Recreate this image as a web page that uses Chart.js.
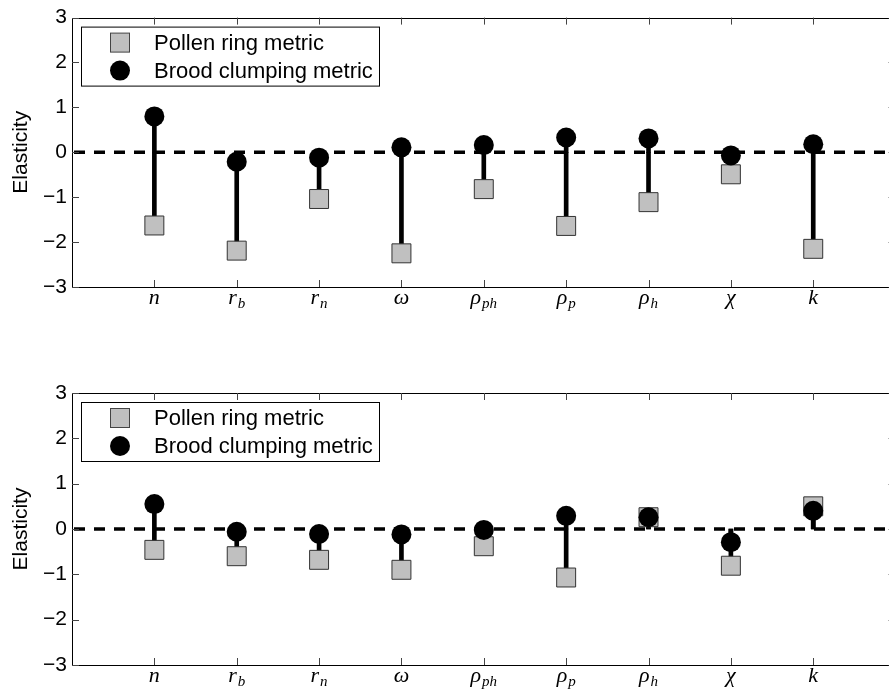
<!DOCTYPE html>
<html>
<head>
<meta charset="utf-8">
<script src="https://cdn.jsdelivr.net/npm/chart.js@4.4.0/dist/chart.umd.min.js"></script>
<style>
    html, body { margin: 0; padding: 0; overflow: hidden; background: #fff; width: 889px; height: 690px; }
    .panel { position: absolute; left: 0; width: 910px; height: 320px; }
    #panel-top { top: 0; }
    #panel-bottom { top: 370px; }
</style>
</head>
<body>
<div class="panel" id="panel-top"><canvas id="grafica-top"></canvas></div>
<div class="panel" id="panel-bottom"><canvas id="grafica-bottom"></canvas></div>
<script>
// parameters on the x axis: [symbol, subscript]
const parametros = [['n', ''], ['r', 'b'], ['r', 'n'], ['ω', ''], ['ρ', 'ph'], ['ρ', 'p'], ['ρ', 'h'], ['χ', ''], ['k', '']];
const yTicks = [-3, -2, -1, 0, 1, 2, 3];
const series = ['Pollen ring metric', 'Brood clumping metric'];

// top panel
const pollenTop = [-1.63, -2.19, -1.04, -2.25, -0.82, -1.64, -1.11, -0.49, -2.15];
const broodTop = [0.80, -0.21, -0.12, 0.11, 0.16, 0.33, 0.31, -0.07, 0.18];

// bottom panel
const pollenBottom = [-0.46, -0.60, -0.68, -0.90, -0.38, -1.07, 0.26, -0.81, 0.50];
const broodBottom = [0.55, -0.06, -0.11, -0.12, -0.02, 0.29, 0.26, -0.29, 0.40];

const fuente = "'Liberation Sans', Arial, Helvetica, sans-serif";
const fuenteMath = "'Liberation Serif', 'DejaVu Serif', serif";

const marcoPlugin = {
    id: 'marco',
    beforeDatasetsDraw(chart) {
        const { ctx, chartArea: a, scales: { y } } = chart;
        const y0 = y.getPixelForValue(0);
        ctx.save();
        ctx.strokeStyle = '#000';
        ctx.lineWidth = 3.5;
        ctx.setLineDash([11, 9]);
        ctx.beginPath();
        ctx.moveTo(a.left + 2, y0);
        ctx.lineTo(a.right, y0);
        ctx.stroke();
        ctx.restore();
    },
    afterDraw(chart) {
        const { ctx, chartArea: a, scales: { x, y } } = chart;
        ctx.save();
        // frame
        ctx.strokeStyle = '#000';
        ctx.lineWidth = 1;
        ctx.strokeRect(Math.round(a.left) + 0.5, Math.round(a.top) + 0.5, Math.round(a.right - a.left), Math.round(a.bottom - a.top));
        // inward ticks
        ctx.strokeStyle = '#444';
        ctx.beginPath();
        parametros.forEach((p, i) => {
            const px = Math.round(x.getPixelForValue(i + 1)) + 0.5;
            ctx.moveTo(px, a.top); ctx.lineTo(px, a.top + 7);
            ctx.moveTo(px, a.bottom); ctx.lineTo(px, a.bottom - 7);
        });
        yTicks.forEach(v => {
            const py = Math.round(y.getPixelForValue(v)) + 0.5;
            ctx.moveTo(a.left, py); ctx.lineTo(a.left + 7, py);
            ctx.moveTo(a.right, py); ctx.lineTo(a.right - 7, py);
        });
        ctx.stroke();

        // x tick labels with subscripts
        ctx.fillStyle = '#000';
        ctx.textBaseline = 'alphabetic';
        ctx.textAlign = 'left';
        parametros.forEach(([s, sub], i) => {
            const px = x.getPixelForValue(i + 1);
            ctx.font = `italic 22px ${fuenteMath}`;
            const w1 = ctx.measureText(s).width;
            ctx.font = `italic 15px ${fuenteMath}`;
            const w2 = sub ? ctx.measureText(sub).width + 1 : 0;
            const x0 = px - (w1 + w2) / 2;
            const base = a.bottom + 17;
            ctx.font = `italic 22px ${fuenteMath}`;
            ctx.fillText(s, x0, base);
            if (sub) {
                ctx.font = `italic 15px ${fuenteMath}`;
                ctx.fillText(sub, x0 + w1 + 1, base + 4);
            }
        });

        // legend box in the upper left corner
        const lx = a.left + 9, ly = a.top + 9;
        ctx.fillStyle = '#fff';
        ctx.fillRect(lx, ly, 298, 59);
        ctx.strokeStyle = '#000';
        ctx.lineWidth = 1;
        ctx.strokeRect(lx + 0.5, ly + 0.5, 298, 59);
        const filas = [ly + 16, ly + 44];
        // square
        ctx.fillStyle = '#c0c0c0';
        ctx.strokeStyle = '#444';
        ctx.fillRect(lx + 29.5, filas[0] - 9.5, 19, 19);
        ctx.strokeRect(lx + 29.5, filas[0] - 9.5, 19, 19);
        // circle
        ctx.fillStyle = '#000';
        ctx.beginPath();
        ctx.arc(lx + 39, filas[1], 10, 0, Math.PI * 2);
        ctx.fill();
        ctx.font = `22px ${fuente}`;
        ctx.textBaseline = 'middle';
        chart.data.datasets.filter(d => d.type === 'scatter').forEach((d, i) => {
            ctx.fillText(d.label, lx + 73, filas[i] + 1);
        });
        ctx.restore();
    }
};

function crearPanel(id, pollen, brood, padTop, xAltura) {
    const ctx = document.getElementById(id).getContext('2d');
    const tallo = (vals) => vals.map((v, i) => ({ x: i + 1, y: [0, v] }));
    const puntos = (vals) => vals.map((v, i) => ({ x: i + 1, y: v }));
    return new Chart(ctx, {
        type: 'scatter',
        data: {
            datasets: [
                {
                    type: 'bar', label: 'stem pollen', data: tallo(pollen),
                    backgroundColor: '#000', borderWidth: 0, barThickness: 4, grouped: false, order: 4
                },
                {
                    type: 'bar', label: 'stem brood', data: tallo(brood),
                    backgroundColor: '#000', borderWidth: 0, barThickness: 4, grouped: false, order: 3
                },
                {
                    type: 'scatter', label: series[0], data: puntos(pollen),
                    pointStyle: 'rect', pointRadius: 13.4, pointHoverRadius: 13.4,
                    backgroundColor: '#c0c0c0', borderColor: '#333', borderWidth: 1, order: 2
                },
                {
                    type: 'scatter', label: series[1], data: puntos(brood),
                    pointStyle: 'circle', pointRadius: 10, pointHoverRadius: 10,
                    backgroundColor: '#000', borderColor: '#000', borderWidth: 0, order: 1
                }
            ]
        },
        options: {
            responsive: true,
            maintainAspectRatio: false,
            animation: false,
            layout: { padding: { top: padTop, left: 0, right: 13, bottom: 0 } },
            scales: {
                x: {
                    type: 'linear', min: 0, max: 10, offset: false,
                    grid: { display: false, drawTicks: false },
                    border: { display: false },
                    ticks: { display: false },
                    afterFit: (s) => { s.height = xAltura; }
                },
                y: {
                    min: -3, max: 3,
                    grid: { display: false, drawTicks: false },
                    border: { display: false },
                    afterBuildTicks: (s) => { s.ticks = yTicks.map(v => ({ value: v })); },
                    ticks: {
                        color: '#000', padding: 5,
                        font: { family: fuente, size: 21 },
                        callback: (v) => String(v).replace('-', '\u2212')
                    },
                    title: {
                        display: true, text: 'Elasticity', color: '#000',
                        font: { family: fuente, size: 21 }, padding: { top: 9, bottom: 0 }
                    },
                    afterFit: (s) => { s.width = 72; }
                }
            },
            plugins: {
                legend: { display: false },
                tooltip: { enabled: false }
            }
        },
        plugins: [marcoPlugin]
    });
}

crearPanel('grafica-top', pollenTop, broodTop, 15, 33);
crearPanel('grafica-bottom', pollenBottom, broodBottom, 23, 25);
</script>
</body>
</html>
